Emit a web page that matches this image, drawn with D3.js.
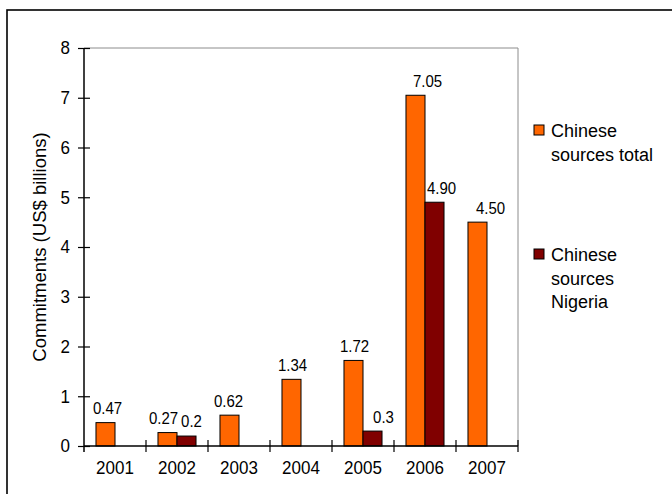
<!DOCTYPE html>
<html>
<head>
<meta charset="utf-8">
<script src="https://cdn.jsdelivr.net/npm/d3@7"></script>
<style>
  body { margin: 0; background: #fff; }
  svg { display: block; font-family: "Liberation Sans", Arial, sans-serif; }
</style>
</head>
<body>
<div id="chart"></div>
<script>
var years = ["2001", "2002", "2003", "2004", "2005", "2006", "2007"];
var seriesNames = ["Chinese sources total", "Chinese sources Nigeria"];
var totalValues = [0.47, 0.27, 0.62, 1.34, 1.72, 7.05, 4.50];
var nigeriaValues = [null, 0.2, null, null, 0.3, 4.90, null];
var totalLabels = ["0.47", "0.27", "0.62", "1.34", "1.72", "7.05", "4.50"];
var nigeriaLabels = [null, "0.2", null, null, "0.3", "4.90", null];
var yTicks = [0, 1, 2, 3, 4, 5, 6, 7, 8];

// small nudges of the value labels, as placed in the original
var totalNudge = [2, -4, -1, 1, 1, 12, 13];
var nigeriaNudge = [0, 5, 0, 0, 11, 7, 0];

// the original picture is a little stretched in height
function stretch(sel){
	sel.each(function(){
		var b = this.getBBox();
		var cy = b.y + b.height / 2;
		d3.select(this).attr("transform", "translate(0," + cy + ") scale(1,1.08) translate(0," + (-cy) + ")");
	});
}

function init(){
	var w = 672, h = 494;
	var left = 84, right = 518, top = 48, bottom = 446;
	var colors = ["#ff6600", "#800000"];

	var svg = d3.select("#chart").append("svg")
		.attr("width", w)
		.attr("height", h);

	// outer frame, runs off the page on right and bottom
	svg.append("rect")
		.attr("x", 7).attr("y", 10)
		.attr("width", 700).attr("height", 600)
		.attr("fill", "none")
		.attr("stroke", "#000")
		.attr("stroke-width", 1.6);

	var x = d3.scaleBand().domain(years).range([left, right]);
	var x1 = d3.scaleBand().domain(seriesNames).range([0, x.bandwidth()]).paddingOuter(0.63);
	var y = d3.scaleLinear().domain([0, 8]).range([bottom, top]);

	// grey plot border (top, right)
	svg.append("path")
		.attr("d", "M" + left + "," + top + "H" + right + "V" + bottom)
		.attr("fill", "none")
		.attr("stroke", "#8c8c8c")
		.attr("stroke-width", 1);

	var rows = years.map(function(d, i){
		return [
			{year: d, s: seriesNames[0], v: totalValues[i], label: totalLabels[i], dx: totalNudge[i], c: colors[0]},
			{year: d, s: seriesNames[1], v: nigeriaValues[i], label: nigeriaLabels[i], dx: nigeriaNudge[i], c: colors[1]}
		];
	});
	var bars = d3.merge(rows).filter(function(d){ return d.v != null; });

	svg.selectAll("rect.bar")
		.data(bars)
		.enter()
		.append("rect")
		.attr("class", "bar")
		.attr("x", function(d){ return x(d.year) + x1(d.s); })
		.attr("y", function(d){ return y(d.v); })
		.attr("width", x1.bandwidth())
		.attr("height", function(d){ return y(0) - y(d.v); })
		.attr("fill", function(d){ return d.c; })
		.attr("stroke", "#000")
		.attr("stroke-width", 1);

	svg.selectAll("text.val")
		.data(bars)
		.enter()
		.append("text")
		.attr("class", "val")
		.attr("x", function(d){ return x(d.year) + x1(d.s) + x1.bandwidth() / 2 + d.dx; })
		.attr("y", function(d){ return y(d.v) - 9; })
		.attr("text-anchor", "middle")
		.attr("font-size", 15)
		.attr("fill", "#000")
		.text(function(d){ return d.label; })
		.call(stretch);

	// y axis
	var yAxis = d3.axisLeft(y).tickValues(yTicks).tickSizeOuter(0).tickSize(6).tickPadding(8);
	var gy = svg.append("g")
		.attr("transform", "translate(" + left + ",0)")
		.call(yAxis);
	gy.select(".domain").attr("d", "M0," + top + "V" + (bottom + 6)).attr("stroke", "#000").attr("stroke-width", 1.5);
	gy.selectAll(".tick line").attr("x1", -6).attr("x2", 6).attr("stroke", "#000").attr("stroke-width", 1.2);
	gy.selectAll(".tick text").attr("font-size", 17).attr("font-family", "Liberation Sans, Arial, sans-serif").attr("fill", "#000")
		.call(stretch);

	// x axis: labels centred, ticks on the category edges
	var xAxis = d3.axisBottom(x).tickSize(0).tickPadding(15);
	var gx = svg.append("g")
		.attr("transform", "translate(0," + bottom + ")")
		.call(xAxis);
	gx.select(".domain").attr("d", "M" + left + ",0H" + right).attr("stroke", "#000").attr("stroke-width", 1.5);
	gx.selectAll(".tick text").attr("font-size", 17).attr("font-family", "Liberation Sans, Arial, sans-serif").attr("fill", "#000")
		.call(stretch);

	var edges = years.slice(1).map(function(d){ return x(d); }).concat([right]);
	gx.selectAll("line.edge")
		.data(edges)
		.enter()
		.append("line")
		.attr("class", "edge")
		.attr("x1", function(d){ return d; })
		.attr("x2", function(d){ return d; })
		.attr("y1", -6)
		.attr("y2", 6)
		.attr("stroke", "#000")
		.attr("stroke-width", 1.2);

	// y axis title
	svg.append("text")
		.attr("transform", "translate(46," + ((top + bottom) / 2) + ") rotate(-90)")
		.attr("text-anchor", "middle")
		.attr("font-size", 18.5)
		.attr("fill", "#000")
		.text("Commitments (US$ billions)");

	// legend
	var legendLines = [["Chinese", "sources total"], ["Chinese", "sources", "Nigeria"]];
	var legend = svg.selectAll("g.legend")
		.data(seriesNames)
		.enter()
		.append("g")
		.attr("class", "legend")
		.attr("transform", function(d, i){ return "translate(534," + (125 + i * 124) + ")"; });

	legend.append("rect")
		.attr("width", 10).attr("height", 10)
		.attr("fill", function(d, i){ return colors[i]; })
		.attr("stroke", "#000")
		.attr("stroke-width", 1);

	legend.append("text")
		.attr("x", 17)
		.attr("y", 12)
		.attr("font-size", 18)
		.attr("fill", "#000")
		.selectAll("tspan")
		.data(function(d, i){ return legendLines[i]; })
		.enter()
		.append("tspan")
		.attr("x", 17)
		.attr("dy", function(d, i){ return i == 0 ? 0 : 23.5; })
		.text(function(d){ return d; });
}

window.onload = init;
</script>
</body>
</html>
